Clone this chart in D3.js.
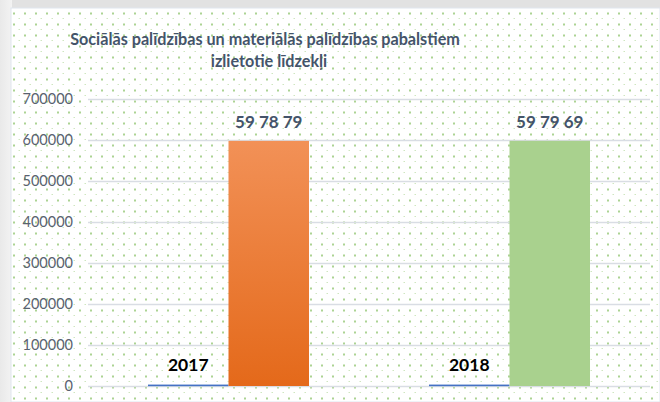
<!DOCTYPE html>
<html>
<head>
<meta charset="utf-8">
<script src="https://cdn.jsdelivr.net/npm/d3@7"></script>
<style>
  body { margin: 0; background: #ffffff; }
  svg { display: block; }
</style>
</head>
<body>
<div class="chart"></div>
<script>
const categories = ["2017", "2018"]
const years = [2017, 2018]
const amounts = [597879, 597969]
const yTicks = [0, 100000, 200000, 300000, 400000, 500000, 600000, 700000]
const titleLines = ["Sociālās palīdzības un materiālās palīdzības pabalstiem", "izlietotie līdzekļi"]

const width = 660, height = 402
const plot = ({left: 88, right: 650, top: 99, bottom: 386})

const svg = d3.select(".chart").append("svg")
  .attr("width", width)
  .attr("height", height)

const defs = svg.append("defs")

// excel style dotted background
const pat = defs.append("pattern")
  .attr("id", "dots")
  .attr("patternUnits", "userSpaceOnUse")
  .attr("x", 12).attr("y", 8)
  .attr("width", 11).attr("height", 11)
pat.append("rect").attr("x", 1).attr("y", 4.5).attr("width", 2).attr("height", 2).attr("fill", "#acd393")
pat.append("rect").attr("x", 6.5).attr("y", 10).attr("width", 1.5).attr("height", 1.5).attr("fill", "#cfe6c0")

const orange = defs.append("linearGradient")
  .attr("id", "orangeGrad")
  .attr("x1", 0).attr("y1", 0).attr("x2", 0).attr("y2", 1)
orange.append("stop").attr("offset", "0%").attr("stop-color", "#f29157")
orange.append("stop").attr("offset", "100%").attr("stop-color", "#e4691a")

const leftShade = defs.append("linearGradient")
  .attr("id", "leftShade")
  .attr("x1", 0).attr("y1", 0).attr("x2", 1).attr("y2", 0)
leftShade.append("stop").attr("offset", "0%").attr("stop-color", "#e9e9e9")
leftShade.append("stop").attr("offset", "100%").attr("stop-color", "#f3f3f3")

// window frame around the chart
svg.append("rect").attr("width", width).attr("height", height).attr("fill", "#e2e2e2")
svg.append("rect").attr("x", 0).attr("y", 0).attr("width", 12).attr("height", height).attr("fill", "url(#leftShade)")
svg.append("rect").attr("x", 11).attr("y", 8).attr("width", width - 11).attr("height", height - 8)
  .attr("fill", "#ffffff").attr("stroke", "#dfe5ee").attr("stroke-width", 1)
svg.append("rect").attr("x", 12).attr("y", 9).attr("width", width - 12).attr("height", height - 9)
  .attr("fill", "url(#dots)")

const x = d3.scaleBand()
  .domain(categories)
  .range([plot.left, plot.right])
  .paddingInner(0.427)
  .paddingOuter(0.2135)

const xInner = d3.scaleBand()
  .domain(["year", "amount"])
  .range([0, x.bandwidth()])

const y = d3.scaleLinear()
  .domain([0, 700000])
  .range([plot.bottom, plot.top])

// grid lines + tick labels
const yAxis = d3.axisLeft(y)
  .tickValues(yTicks)
  .tickSize(-(plot.right - plot.left))
  .tickPadding(15)
  .tickFormat(d3.format("d"))

const yAxisGroup = svg.append("g")
  .attr("class", "axis y-axis")
  .attr("transform", `translate(${plot.left},0)`)
  .call(yAxis)

yAxisGroup.select(".domain").remove()
yAxisGroup.selectAll(".tick line")
  .attr("stroke", "#d9dde4")
  .attr("stroke-width", 1.6)
yAxisGroup.selectAll(".tick text")
  .attr("fill", "#59626f")
  .attr("font-family", "Lato, sans-serif")
  .attr("font-size", 14.5)

const pairFormat = function(d) {
  const s = String(d)
  const parts = []
  for (let i = s.length; i > 0; i -= 2) parts.unshift(s.slice(Math.max(0, i - 2), i))
  return parts.join(" ")
}

const data = categories.map((c, i) => ({cat: c, year: years[i], amount: amounts[i]}))
const fills = ["url(#orangeGrad)", "#a9d18e"]

const groups = svg.append("g")
  .selectAll("g")
  .data(data)
  .enter()
  .append("g")
  .attr("transform", d => `translate(${x(d.cat)},0)`)

// the small "year" series bar
groups.append("rect")
  .attr("x", xInner("year"))
  .attr("y", d => y(d.year) - 0.6)
  .attr("width", xInner.bandwidth())
  .attr("height", d => Math.max(1.6, y(0) - y(d.year) + 0.6))
  .attr("fill", "#4472c4")

groups.append("rect")
  .attr("x", xInner("amount"))
  .attr("y", d => y(d.amount))
  .attr("width", xInner.bandwidth())
  .attr("height", d => y(0) - y(d.amount))
  .attr("fill", (d, i) => fills[i])

groups.append("text")
  .attr("x", xInner("year") + xInner.bandwidth() / 2)
  .attr("y", d => y(d.year) - 14)
  .attr("text-anchor", "middle")
  .attr("font-family", "Lato, sans-serif")
  .attr("font-weight", "bold")
  .attr("font-size", 17.5)
  .attr("fill", "#000000")
  .text(d => d.year)

groups.append("text")
  .attr("x", xInner("amount") + xInner.bandwidth() / 2)
  .attr("y", d => y(d.amount) - 13)
  .attr("text-anchor", "middle")
  .attr("font-family", "Lato, sans-serif")
  .attr("font-weight", "bold")
  .attr("font-size", 17)
  .attr("fill", "#44546a")
  .text(d => pairFormat(d.amount))

svg.append("g")
  .selectAll("text")
  .data(titleLines)
  .enter()
  .append("text")
  .attr("x", (d, i) => 265 + i * 4)
  .attr("y", (d, i) => 45 + i * 22)
  .attr("text-anchor", "middle")
  .attr("font-family", "Lato, sans-serif")
  .attr("font-weight", "bold")
  .attr("font-size", 16.2)
  .attr("fill", "#44546a")
  .text(d => d)
</script>
</body>
</html>
